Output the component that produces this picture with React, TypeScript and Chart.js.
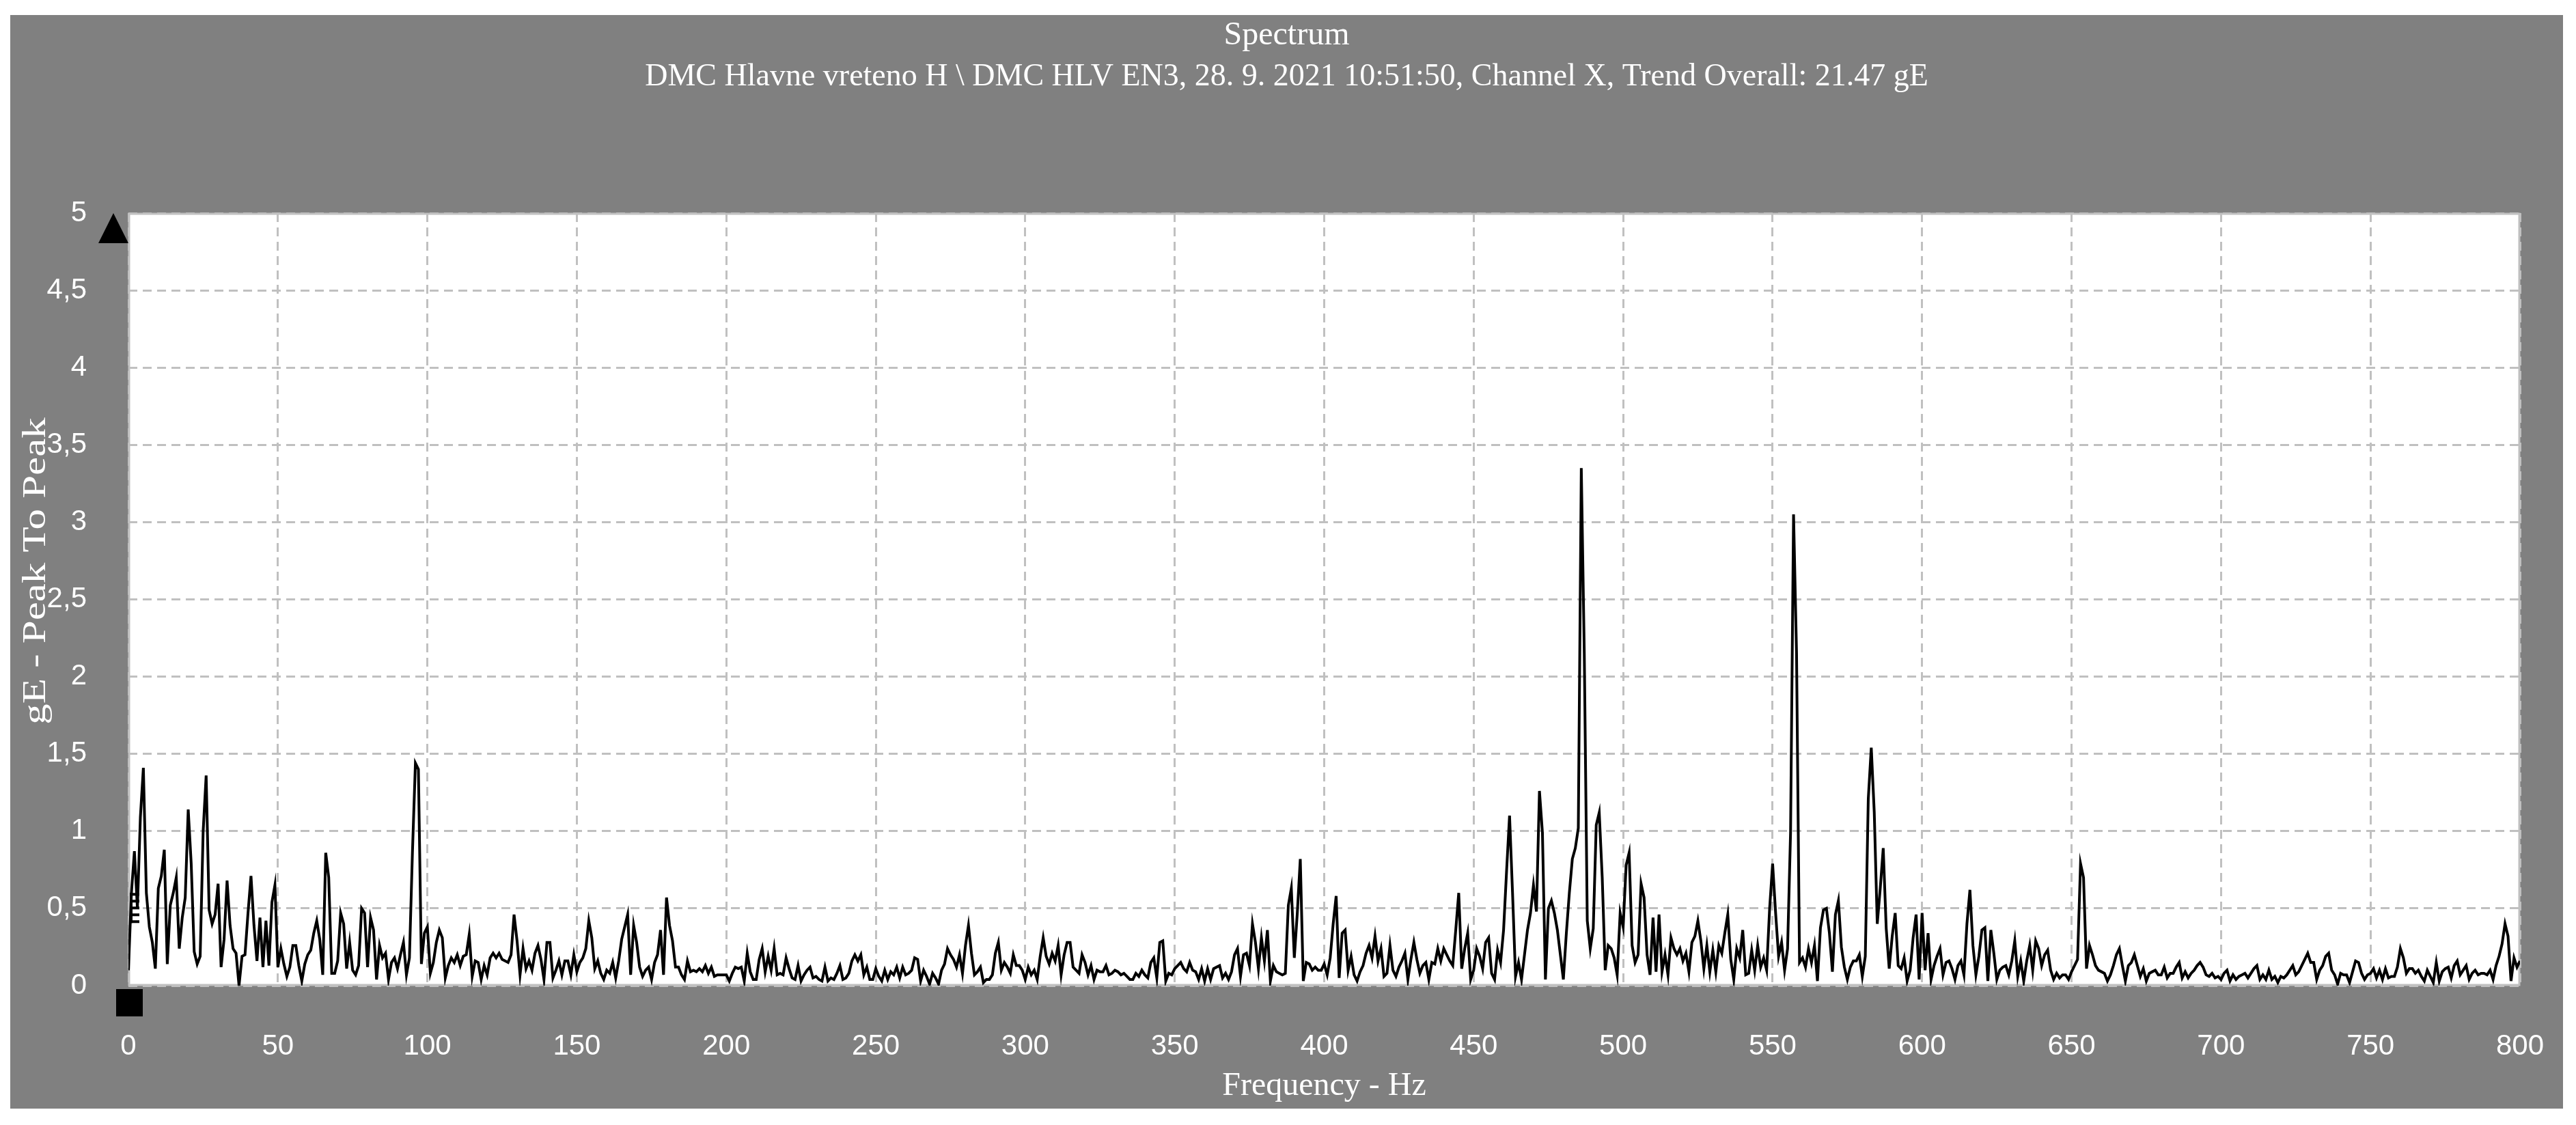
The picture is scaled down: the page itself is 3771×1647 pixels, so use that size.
import React, { useEffect, useRef } from "react";
import { Chart, registerables } from "chart.js";

Chart.register(...registerables);

// ---------- text ----------
const TITLE = "Spectrum";
const SUBTITLE =
  "DMC Hlavne vreteno H \\ DMC HLV EN3, 28. 9. 2021 10:51:50, Channel X, Trend Overall: 21.47 gE";
const X_TITLE = "Frequency - Hz";
const Y_TITLE = "gE - Peak To Peak";

// ---------- axes ----------
const FREQ_MIN = 0;
const FREQ_MAX = 800;
const FREQ_TICK_STEP = 50;
const AMP_MIN = 0;
const AMP_MAX = 5;
const AMP_TICK_STEP = 0.5;
const Y_TICK_LABELS = ["0", "0,5", "1", "1,5", "2", "2,5", "3", "3,5", "4", "4,5", "5"];

// frequency bins: one bin per Hz starting at 0 Hz
const FREQ_START = 0;
const FREQ_STEP = 1;

// ---------- spectrum amplitudes (gE peak-to-peak) ----------
const AMP_000_100 = [
  0.1, 0.6, 0.87, 0.5, 1.09, 1.41, 0.6, 0.38, 0.28, 0.11,
  0.63, 0.71, 0.88, 0.14, 0.52, 0.6, 0.7, 0.24, 0.44, 0.57,
  1.14, 0.79, 0.22, 0.14, 0.19, 1.0, 1.36, 0.49, 0.4, 0.46,
  0.66, 0.12, 0.3, 0.68, 0.39, 0.24, 0.21, 0.0, 0.19, 0.2,
  0.47, 0.71, 0.39, 0.16, 0.44, 0.12, 0.42, 0.13, 0.54, 0.65,
  0.12, 0.24, 0.14, 0.06, 0.12, 0.26, 0.26, 0.13, 0.03, 0.14,
  0.2, 0.23, 0.34, 0.42, 0.3, 0.07, 0.86, 0.7, 0.08, 0.08,
  0.16, 0.47, 0.4, 0.11, 0.28, 0.1, 0.07, 0.13, 0.5, 0.47,
  0.12, 0.44, 0.36, 0.04, 0.26, 0.18, 0.21, 0.04, 0.15, 0.18,
  0.11, 0.2, 0.28, 0.07, 0.18, 0.86, 1.44, 1.4, 0.14, 0.34,
  0.38,
];
const AMP_101_200 = [
  0.08, 0.15, 0.28, 0.36, 0.31, 0.05, 0.13, 0.18, 0.15, 0.2,
  0.13, 0.19, 0.2, 0.33, 0.06, 0.16, 0.15, 0.04, 0.13, 0.07,
  0.18, 0.21, 0.18, 0.21, 0.17, 0.16, 0.15, 0.2, 0.46, 0.29,
  0.07, 0.24, 0.11, 0.16, 0.1, 0.21, 0.26, 0.17, 0.04, 0.28,
  0.28, 0.05, 0.1, 0.16, 0.07, 0.16, 0.16, 0.07, 0.2, 0.09,
  0.15, 0.18, 0.24, 0.42, 0.31, 0.11, 0.16, 0.08, 0.04, 0.1,
  0.08, 0.15, 0.05, 0.16, 0.3, 0.38, 0.46, 0.07, 0.39, 0.28,
  0.12, 0.06, 0.1, 0.12, 0.04, 0.15, 0.2, 0.36, 0.07, 0.57,
  0.39, 0.29, 0.12, 0.12, 0.07, 0.04, 0.16, 0.09, 0.1, 0.09,
  0.11, 0.09, 0.13, 0.08, 0.12, 0.06, 0.07, 0.07, 0.07, 0.07,
];
const AMP_201_300 = [
  0.03, 0.08, 0.12, 0.11, 0.12, 0.03, 0.21, 0.09, 0.04, 0.04,
  0.17, 0.24, 0.09, 0.19, 0.1, 0.24, 0.07, 0.08, 0.07, 0.18,
  0.11, 0.05, 0.04, 0.13, 0.03, 0.07, 0.1, 0.12, 0.05, 0.06,
  0.04, 0.03, 0.12, 0.03, 0.05, 0.04, 0.08, 0.13, 0.04, 0.05,
  0.08, 0.16, 0.2, 0.16, 0.2, 0.07, 0.12, 0.04, 0.04, 0.11,
  0.06, 0.03, 0.1, 0.04, 0.09, 0.07, 0.12, 0.05, 0.12, 0.07,
  0.08, 0.1, 0.18, 0.17, 0.03, 0.1, 0.06, 0.01, 0.08, 0.05,
  0.01, 0.1, 0.14, 0.24, 0.2, 0.17, 0.12, 0.2, 0.08, 0.26,
  0.39, 0.21, 0.07, 0.09, 0.12, 0.02, 0.04, 0.04, 0.07, 0.21,
  0.28, 0.1, 0.15, 0.12, 0.08, 0.2, 0.13, 0.13, 0.1, 0.04,
];
const AMP_301_400 = [
  0.12, 0.07, 0.1, 0.04, 0.19, 0.31, 0.19, 0.14, 0.21, 0.16,
  0.26, 0.07, 0.2, 0.28, 0.28, 0.12, 0.1, 0.08, 0.2, 0.15,
  0.07, 0.13, 0.04, 0.1, 0.09, 0.09, 0.13, 0.07, 0.08, 0.1,
  0.09, 0.07, 0.08, 0.06, 0.04, 0.04, 0.08, 0.06, 0.1, 0.07,
  0.05, 0.15, 0.18, 0.05, 0.28, 0.29, 0.03, 0.08, 0.07, 0.11,
  0.13, 0.15, 0.11, 0.09, 0.15, 0.1, 0.09, 0.04, 0.11, 0.03,
  0.11, 0.04, 0.11, 0.12, 0.13, 0.05, 0.08, 0.04, 0.09, 0.2,
  0.24, 0.06, 0.2, 0.21, 0.13, 0.4, 0.28, 0.11, 0.31, 0.16,
  0.36, 0.03, 0.13, 0.09, 0.08, 0.07, 0.08, 0.52, 0.63, 0.18,
  0.47, 0.82, 0.03, 0.15, 0.14, 0.1, 0.12, 0.1, 0.1, 0.14,
];
const AMP_401_500 = [
  0.07, 0.18, 0.4, 0.58, 0.05, 0.34, 0.36, 0.1, 0.19, 0.07,
  0.03, 0.09, 0.13, 0.21, 0.26, 0.18, 0.32, 0.16, 0.24, 0.06,
  0.08, 0.26, 0.1, 0.06, 0.12, 0.16, 0.21, 0.04, 0.17, 0.28,
  0.17, 0.08, 0.13, 0.15, 0.04, 0.15, 0.14, 0.24, 0.16, 0.24,
  0.2, 0.16, 0.13, 0.36, 0.6, 0.11, 0.24, 0.34, 0.04, 0.1,
  0.24, 0.19, 0.11, 0.28, 0.31, 0.08, 0.04, 0.23, 0.15, 0.36,
  0.74, 1.1, 0.6, 0.06, 0.15, 0.04, 0.2, 0.36, 0.47, 0.65,
  0.48, 1.26, 0.99, 0.04, 0.5, 0.55, 0.47, 0.36, 0.2, 0.04,
  0.34, 0.6, 0.82, 0.89, 1.02, 3.35, 2.15, 0.42, 0.24, 0.37,
  1.04, 1.12, 0.7, 0.1, 0.26, 0.24, 0.18, 0.07, 0.47, 0.38,
];
const AMP_501_600 = [
  0.78, 0.86, 0.26, 0.15, 0.2, 0.66, 0.57, 0.2, 0.07, 0.44,
  0.09, 0.46, 0.09, 0.2, 0.07, 0.31, 0.24, 0.2, 0.24, 0.16,
  0.21, 0.09, 0.28, 0.32, 0.42, 0.29, 0.11, 0.26, 0.09, 0.23,
  0.09, 0.26, 0.21, 0.34, 0.46, 0.17, 0.04, 0.24, 0.18, 0.36,
  0.07, 0.08, 0.23, 0.1, 0.26, 0.12, 0.18, 0.1, 0.5, 0.79,
  0.47, 0.19, 0.28, 0.1, 0.24, 0.99, 3.05, 2.15, 0.15, 0.18,
  0.12, 0.24, 0.15, 0.26, 0.03, 0.375, 0.49, 0.5, 0.34, 0.09,
  0.46, 0.55, 0.25, 0.12, 0.04, 0.12, 0.16, 0.16, 0.2, 0.06,
  0.19, 1.21, 1.54, 1.12, 0.4, 0.63, 0.89, 0.37, 0.11, 0.32,
  0.47, 0.13, 0.11, 0.18, 0.03, 0.1, 0.31, 0.46, 0.04, 0.47,
];
const AMP_601_700 = [
  0.1, 0.34, 0.04, 0.13, 0.19, 0.24, 0.07, 0.15, 0.16, 0.11,
  0.04, 0.13, 0.16, 0.07, 0.4, 0.62, 0.26, 0.07, 0.19, 0.36,
  0.375, 0.03, 0.36, 0.21, 0.04, 0.1, 0.12, 0.13, 0.07, 0.16,
  0.29, 0.06, 0.16, 0.03, 0.16, 0.26, 0.1, 0.29, 0.24, 0.13,
  0.2, 0.23, 0.1, 0.04, 0.08, 0.05, 0.07, 0.07, 0.04, 0.09,
  0.13, 0.17, 0.79, 0.7, 0.11, 0.26, 0.2, 0.13, 0.1, 0.09,
  0.08, 0.03, 0.07, 0.13, 0.2, 0.24, 0.13, 0.03, 0.13, 0.15,
  0.2, 0.13, 0.06, 0.11, 0.03, 0.08, 0.09, 0.1, 0.07, 0.07,
  0.12, 0.05, 0.08, 0.08, 0.12, 0.15, 0.05, 0.09, 0.05, 0.08,
  0.1, 0.13, 0.15, 0.12, 0.07, 0.06, 0.08, 0.05, 0.06, 0.04,
];
const AMP_701_800 = [
  0.08, 0.1, 0.03, 0.07, 0.04, 0.06, 0.07, 0.08, 0.05, 0.08,
  0.11, 0.13, 0.04, 0.07, 0.04, 0.1, 0.04, 0.06, 0.02, 0.06,
  0.05, 0.07, 0.1, 0.13, 0.07, 0.09, 0.13, 0.17, 0.21, 0.15,
  0.15, 0.04, 0.1, 0.13, 0.19, 0.21, 0.1, 0.07, 0.01, 0.08,
  0.07, 0.07, 0.02, 0.09, 0.16, 0.15, 0.08, 0.04, 0.07, 0.08,
  0.11, 0.05, 0.1, 0.04, 0.11, 0.05, 0.06, 0.06, 0.12, 0.24,
  0.18, 0.08, 0.11, 0.11, 0.08, 0.1, 0.06, 0.03, 0.1, 0.06,
  0.02, 0.15, 0.03, 0.09, 0.11, 0.12, 0.05, 0.13, 0.16, 0.07,
  0.1, 0.13, 0.04, 0.08, 0.1, 0.07, 0.08, 0.08, 0.07, 0.1,
  0.04, 0.13, 0.19, 0.27, 0.4, 0.32, 0.03, 0.18, 0.12, 0.16,
];

const AMPLITUDES = [
  ...AMP_000_100,
  ...AMP_101_200,
  ...AMP_201_300,
  ...AMP_301_400,
  ...AMP_401_500,
  ...AMP_501_600,
  ...AMP_601_700,
  ...AMP_701_800,
];

// ---------- styling / layout ----------
const W = 3771;
const H = 1647;
const PANEL_GRAY = "#808080";
const GRID_GRAY = "#c0c0c0";
const SERIF = '"Liberation Serif", "Times New Roman", serif';
const SANS = '"Liberation Sans Narrow", "Liberation Sans", Arial, sans-serif';

const PANEL = { left: 15, top: 22, right: 3752, bottom: 1623 };
const PLOT_LEFT = 188;
const PLOT_TOP = 312;
const PLOT_RIGHT_GAP = W - 3689;
const X_AXIS_HEIGHT = H - 1443;

const decorPlugin = {
  id: "decor",
  beforeDraw(chart: any) {
    const { ctx, chartArea: a } = chart;
    ctx.save();
    ctx.fillStyle = "#ffffff";
    ctx.fillRect(0, 0, chart.width, chart.height);
    ctx.fillStyle = PANEL_GRAY;
    ctx.fillRect(PANEL.left, PANEL.top, PANEL.right - PANEL.left, PANEL.bottom - PANEL.top);
    ctx.fillStyle = "#ffffff";
    ctx.fillRect(a.left, a.top, a.right - a.left, a.bottom - a.top);
    ctx.restore();
  },
  beforeDatasetsDraw(chart: any) {
    const { ctx, chartArea: a } = chart;
    ctx.save();
    ctx.strokeStyle = GRID_GRAY;
    ctx.lineWidth = 3;
    ctx.setLineDash([]);
    ctx.strokeRect(a.left + 1, a.top + 1, a.right - a.left - 2, a.bottom - a.top - 2);
    ctx.restore();
  },
  afterDraw(chart: any) {
    const { ctx, chartArea: a } = chart;
    const xs = chart.scales.x;
    const ys = chart.scales.y;
    ctx.save();
    // titles
    ctx.fillStyle = "#ffffff";
    ctx.textAlign = "center";
    ctx.textBaseline = "alphabetic";
    const cx = (PANEL.left + PANEL.right) / 2;
    ctx.font = `48px ${SERIF}`;
    ctx.fillText(TITLE, cx, 65);
    ctx.font = `46px ${SERIF}`;
    ctx.fillText(SUBTITLE, cx, 125);
    // x axis title
    ctx.font = `48px ${SERIF}`;
    ctx.textBaseline = "middle";
    ctx.fillText(X_TITLE, (a.left + a.right) / 2, 1590);
    // y axis title (stretched along its length like the original)
    ctx.save();
    ctx.translate(53, 836);
    ctx.rotate(-Math.PI / 2);
    ctx.scale(1.27, 1);
    ctx.fillText(Y_TITLE, 0, 0);
    ctx.restore();

    // cursor markers
    ctx.fillStyle = "#000000";
    const yTop = ys.getPixelForValue(AMP_MAX);
    ctx.beginPath();
    ctx.moveTo(a.left - 22, yTop);
    ctx.lineTo(a.left, yTop + 44);
    ctx.lineTo(a.left - 44, yTop + 44);
    ctx.closePath();
    ctx.fill();
    const x0 = xs.getPixelForValue(FREQ_MIN);
    ctx.fillRect(x0 - 18, a.bottom + 5, 39, 40);

    // small cursor glyph at the start of the trace
    const gy = ys.getPixelForValue(0.6);
    ctx.fillStyle = "#000000";
    for (let k = 0; k < 5; k++) {
      ctx.fillRect(x0 + 2, gy + k * 10, 14, 4);
    }
    ctx.fillRect(x0 + 2, gy, 4, 44);
    ctx.restore();
  },
};

export default function App() {
  const canvasRef = useRef<HTMLCanvasElement | null>(null);

  useEffect(() => {
    const canvas = canvasRef.current;
    if (!canvas) return;
    const points = AMPLITUDES.map((v, i) => ({ x: FREQ_START + i * FREQ_STEP, y: v }));
    const tickFont = { family: SANS, size: 42 };
    const chart = new Chart(canvas, {
      type: "line",
      data: {
        datasets: [
          {
            data: points,
            borderColor: "#000000",
            borderWidth: 4,
            pointRadius: 0,
            tension: 0,
            fill: false,
          },
        ],
      },
      options: {
        animation: false,
        responsive: false,
        maintainAspectRatio: false,
        devicePixelRatio: 1,
        layout: { padding: { left: 0, top: PLOT_TOP, right: PLOT_RIGHT_GAP, bottom: 0 } },
        plugins: {
          legend: { display: false },
          tooltip: { enabled: false },
          title: { display: false },
        },
        scales: {
          x: {
            type: "linear",
            min: FREQ_MIN,
            max: FREQ_MAX,
            afterFit: (s: any) => {
              s.height = X_AXIS_HEIGHT;
              s.paddingLeft = 0;
              s.paddingRight = 0;
            },
            ticks: {
              stepSize: FREQ_TICK_STEP,
              color: "#ffffff",
              font: tickFont,
              padding: 64,
              maxRotation: 0,
              autoSkip: false,
            },
            grid: { color: GRID_GRAY, lineWidth: 3, drawTicks: false },
            border: { display: false, dash: [13, 8] },
          },
          y: {
            type: "linear",
            min: AMP_MIN,
            max: AMP_MAX,
            afterFit: (s: any) => {
              s.width = PLOT_LEFT;
              s.paddingTop = 0;
              s.paddingBottom = 0;
            },
            ticks: {
              stepSize: AMP_TICK_STEP,
              color: "#ffffff",
              font: tickFont,
              padding: 61,
              callback: (_v: any, i: number) => Y_TICK_LABELS[i],
            },
            grid: { color: GRID_GRAY, lineWidth: 3, drawTicks: false },
            border: { display: false, dash: [13, 8] },
          },
        },
      },
      plugins: [decorPlugin],
    } as any);
    return () => chart.destroy();
  }, []);

  return (
    <div style={{ position: "absolute", left: 0, top: 0, width: W, height: H, background: "#fff" }}>
      <canvas ref={canvasRef} width={W} height={H} style={{ width: W, height: H, display: "block" }} />
    </div>
  );
}
